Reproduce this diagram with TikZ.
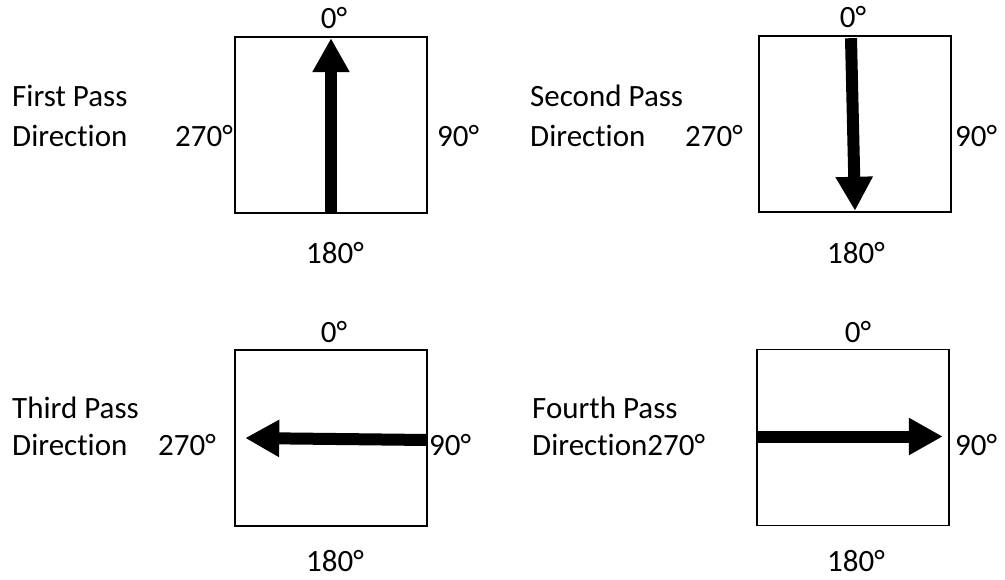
\documentclass[tikz,border=0pt]{standalone}
\usepackage{fontspec}
\setmainfont{Carlito}[Ligatures=NoCommon]
\usetikzlibrary{arrows.meta}
\begin{document}
\begin{tikzpicture}[x=1pt,y=-1pt,
  lbl/.style={inner sep=0pt,text depth=0pt,font=\fontsize{31}{37}\selectfont},
  boxn/.style={draw,line width=1.6pt,inner sep=0pt,minimum width=192pt,minimum height=176pt},
  passarrow/.style={line width=12pt,-{Triangle[length=34pt,width=35pt]}}]
\useasboundingbox (0,0) rectangle (1005,579);
% boxes
\node[boxn] (b1) at (331,125) {};
\node[boxn] (b2) at (855,124) {};
\node[boxn] (b3) at (331,438) {};
\node[boxn] (b4) at (853,437.5) {};
% arrows
\draw[passarrow] (b1.south) -- ([yshift=-2pt]b1.north);
\draw[passarrow] ([xshift=-4pt,yshift=-3pt]b2.north) -- ([yshift=2pt]b2.south);
\draw[passarrow] ([yshift=-2pt]b3.east) -- ([xshift=11pt]b3.west);
\draw[passarrow] ([yshift=1pt]b4.west) -- ([xshift=-7pt,yshift=1pt]b4.east);
% labels box 1
\node[lbl,anchor=base] (t1) at (334,28) {0°};
\node[lbl,anchor=base] (d1) at (335,263) {180°};
\node[lbl,anchor=base west] (r1) at (437,146) {90°};
\node[lbl,anchor=base west] (l1) at (175,146) {270°};
\node[lbl,anchor=base west] (p1a) at (12,106) {First Pass};
\node[lbl,anchor=base west] (p1b) at (12,146) {Direction};
% labels box 2
\node[lbl,anchor=base] (t2) at (853,27) {0°};
\node[lbl,anchor=base] (d2) at (856,263) {180°};
\node[lbl,anchor=base west] (r2) at (955,146) {90°};
\node[lbl,anchor=base west] (l2) at (685,146) {270°};
\node[lbl,anchor=base west] (p2a) at (530,106) {Second Pass};
\node[lbl,anchor=base west] (p2b) at (530,146) {Direction};
% labels box 3
\node[lbl,anchor=base] (t3) at (334,342) {0°};
\node[lbl,anchor=base] (d3) at (335,571) {180°};
\node[lbl,anchor=base west] (r3) at (429,455) {90°};
\node[lbl,anchor=base west] (l3) at (158,455) {270°};
\node[lbl,anchor=base west] (p3a) at (12,418) {Third Pass};
\node[lbl,anchor=base west] (p3b) at (12,455) {Direction};
% labels box 4
\node[lbl,anchor=base] (t4) at (858,342) {0°};
\node[lbl,anchor=base] (d4) at (856,571) {180°};
\node[lbl,anchor=base west] (r4) at (955,455) {90°};
\node[lbl,anchor=base west] (p4a) at (532,418) {Fourth Pass};
\node[lbl,anchor=base west] (p4b) at (532,455) {Direction270°};
\end{tikzpicture}
\end{document}
